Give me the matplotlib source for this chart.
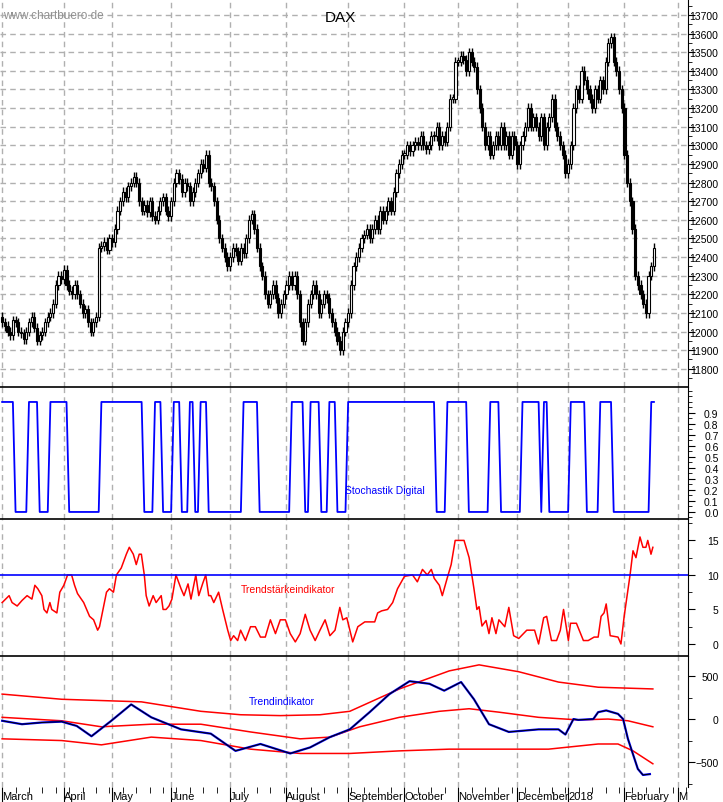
import matplotlib
matplotlib.use("Agg")
import matplotlib.pyplot as plt
import numpy as np
from matplotlib.ticker import MultipleLocator

plt.rcParams['font.family'] = ['Liberation Sans', 'DejaVu Sans']

month_labels = ["March", "April", "May", "June", "July", "August", "September",
                "October", "November", "December", "2018", "February", "M"]
month_days = [23, 18, 22, 22, 21, 23, 21, 20, 22, 19, 21, 20]

closes = [
    # March
    12050, 12030, 12000, 11980, 12060, 12050, 12000, 11990, 11960, 12000, 12050, 12080,
    12020, 11950, 11980, 12000, 12050, 12080, 12100, 12150, 12250, 12300, 12280,
    # April
    12330, 12250, 12220, 12200, 12250, 12200, 12150, 12100, 12120, 12050, 12000, 12050,
    12080, 12450, 12460, 12480, 12440, 12500,
    # May
    12480, 12550, 12650, 12700, 12750, 12720, 12780, 12800, 12830, 12800, 12700, 12650,
    12680, 12640, 12700, 12620, 12600, 12650, 12700, 12720, 12650, 12620,
    # June
    12700, 12800, 12850, 12820, 12750, 12800, 12780, 12700, 12750, 12800, 12850, 12900,
    12880, 12950, 12800, 12780, 12700, 12600, 12500, 12450, 12400, 12350,
    # July
    12400, 12450, 12430, 12380, 12450, 12420, 12500, 12600, 12630, 12550, 12450, 12350,
    12300, 12200, 12150, 12200, 12250, 12180, 12100, 12150, 12200,
    # August
    12250, 12300, 12250, 12300, 12200, 12050, 11950, 12050, 12150, 12200, 12250, 12200,
    12100, 12150, 12200, 12180, 12100, 12050, 12000, 11950, 11900, 12000, 12050,
    # September
    12100, 12250, 12350, 12400, 12450, 12500, 12520, 12550, 12500, 12550, 12600, 12550,
    12650, 12600, 12650, 12700, 12650, 12750, 12850, 12900, 12950,
    # October
    12950, 13000, 12970, 13000, 13020, 13000, 13050, 13000, 12980, 13000, 13050, 13050,
    13100, 13000, 13050, 13020, 13100, 13250, 13250, 13450,
    # November
    13450, 13480, 13460, 13400, 13500, 13450, 13420, 13300, 13200, 13100, 13000, 13050,
    12950, 13000, 13050, 13000, 13100, 13000, 13050, 12950, 13050, 13000,
    # December
    12900, 13000, 13050, 13100, 13200, 13100, 13150, 13100, 13050, 13150, 13000, 13100,
    13150, 13250, 13100, 13050, 13000, 12950, 12850,
    # January
    12900, 13000, 13200, 13300, 13250, 13400, 13350, 13300, 13250, 13200, 13300, 13250,
    13350, 13300, 13450, 13550, 13580, 13450, 13400, 13300, 13200,
    # February
    12950, 12800, 12700, 12550, 12300, 12250, 12200, 12150, 12100, 12300, 12350, 12450,
]
first_open = 12080
wick = 25

# Stochastik Digital: high intervals (trading-day index)
stoch_high = [(0, 4.4), (10, 13.3), (17.4, 24), (36.3, 52.6), (57, 59.3), (63.3, 66),
              (70, 71.5), (74, 76), (90, 95.2), (108, 112), (115, 118.5), (122, 124),
              (128.5, 161), (166, 173.7), (182, 185), (194, 200), (202, 203.7),
              (212, 217), (223, 227), (242, 246)]

# Trendstaerkeindikator: (trading day, value)
ts_points = [
    (0, 6), (2.6, 7), (3.7, 6), (5.6, 5.5), (7.4, 6.3), (9.3, 7), (11.1, 6.5), (12.2, 8.5),
    (13.3, 8), (14.8, 7), (15.6, 5), (16.7, 4.5), (17.8, 6), (18.5, 5), (20.4, 4.5),
    (21.5, 7.5), (23, 8.5), (24.4, 10), (25.9, 10), (27, 8.5), (28.1, 7.3), (30.4, 6),
    (31.5, 5), (32.6, 4), (34.1, 3.5), (35.6, 2), (36.3, 2.5), (38.9, 7.5), (40, 8),
    (41.5, 7.5), (42.6, 10), (44.4, 11), (46.3, 13), (47.4, 14), (48.9, 13), (50, 11.5),
    (51.1, 13), (51.9, 13), (53, 10), (53.7, 7), (54.8, 5.5), (56.3, 7), (57.4, 6),
    (59.3, 7), (60, 5), (61.1, 5), (62.2, 5.5), (63.3, 6.5), (64.8, 10), (66.7, 8),
    (67.8, 7), (69.3, 8.7), (70.4, 6.5), (72.2, 10), (73.3, 7), (74.8, 8.8), (75.9, 10),
    (77, 7), (77.8, 7), (78.9, 6), (80.7, 7.5), (82.2, 5), (84.1, 2), (85.2, 0.5),
    (86.3, 1.2), (87.8, 0.5), (88.9, 2), (90.7, 0.5), (92.6, 2.5), (94.4, 2.5), (96.3, 1),
    (98.1, 1), (100, 3.5), (101.9, 1.5), (103.7, 3.5), (105.6, 3.5), (107.4, 1.5),
    (109.3, 0.3), (111.1, 1.5), (113, 4.3), (114.8, 2), (116.7, 0.5), (118.5, 2),
    (120.4, 3.5), (122.2, 1.2), (124.1, 2), (125.9, 5.3), (127, 3.5), (128.5, 3.8),
    (130.7, 0.3), (132.6, 2.5), (135.2, 3.2), (138.9, 3.2), (140, 4.5), (141.5, 4.8),
    (143.7, 5), (145.6, 6), (147.4, 8), (150, 9.8), (153, 10), (154.8, 9), (156.7, 10.8),
    (158.5, 10), (160, 10.8), (161.1, 9.5), (163, 8.5), (164.1, 7), (165.9, 9.5),
    (167.4, 11.5), (168.9, 15), (172.2, 15), (174.1, 12.5), (175.9, 8), (177, 5),
    (177.8, 5.4), (178.9, 2.6), (180.4, 3.4), (181.5, 1.5), (182.6, 3.8), (184.1, 1.5),
    (185.2, 3.5), (187.4, 2.5), (188.9, 5.3), (190.7, 1.2), (192.6, 0.8), (195.6, 2),
    (198.5, 2), (200, 0), (201.9, 3.8), (203, 4), (204.8, 0.5), (206.7, 0.5), (208.1, 2),
    (209.3, 5), (211.1, 0.5), (211.9, 3), (214.1, 3), (216.7, 0.5), (218.5, 0.5),
    (220.7, 1), (222.2, 1), (223.3, 4), (224.4, 4.5), (225.2, 5.8), (226.7, 1.2),
    (229.6, 1), (230.7, 0), (231.9, 4), (234.1, 10), (235.2, 13.5), (236.3, 12.5),
    (237.8, 15.5), (238.9, 14), (240, 14), (240.7, 15), (241.9, 13), (242.6, 14)]

# Trendindikator (day index, value)
ti_day = [0, 7.4, 14.8, 22.2, 27.8, 33.3, 40.7, 48.1, 55.6, 66.7, 77.8, 87, 96.3, 107.4,
          114.8, 122.2, 129.6, 137, 144.4, 151.9, 159.3, 164.8, 171.1, 175.9, 181.5, 188.9,
          200, 207.4, 210, 213, 214.8, 220.4, 222.2, 225.2, 229.6, 231.5, 233.3, 235.2,
          237, 238.9, 241.5]
ti_val = [-20, -60, -40, -30, -80, -200, -20, 170, 20, -120, -170, -370, -290, -400, -330,
          -210, -120, 80, 290, 440, 410, 330, 430, 230, -60, -150, -120, -120, -180, 0,
          -10, 0, 80, 100, 60, 0, -230, -410, -580, -650, -640]
up_day = [0, 22.2, 51.9, 74.1, 88.9, 103.7, 118.5, 129.6, 148.1, 166.7, 177.8, 192.6,
          207.4, 222.2, 242.6]
up_val = [290, 230, 200, 90, 50, 40, 50, 90, 350, 560, 630, 550, 430, 370, 350]
mid_day = [0, 22.2, 37, 55.6, 74.1, 92.6, 111.1, 122.2, 133.3, 148.1, 163, 174.1, 185.2,
           200, 214.8, 225.9, 233.3, 242.6]
mid_val = [20, -20, -90, -60, -60, -150, -230, -210, -90, 20, 90, 120, 80, 20, -10, 0,
           -20, -90]
lo_day = [0, 22.2, 37, 55.6, 74.1, 92.6, 111.1, 129.6, 148.1, 166.7, 185.2, 203.7, 222.2,
          229.6, 235.2, 242.6]
lo_val = [-230, -250, -300, -210, -250, -350, -400, -400, -370, -350, -350, -350, -290,
          -290, -370, -520]

# ---------------------------------------------------------------
n = len(closes)
idx = np.arange(n)
opens = [first_open] + closes[:-1]
month_starts = np.concatenate([[0], np.cumsum(month_days)])

W, H = 723, 803
fig = plt.figure(figsize=(W / 100, H / 100), dpi=100)
def axrect(top, bot):
    return [0, 1 - bot / H, 688 / W, (bot - top) / H]
ax1 = fig.add_axes(axrect(0, 388))
ax2 = fig.add_axes(axrect(388, 520), sharex=ax1)
ax3 = fig.add_axes(axrect(520, 657), sharex=ax1)
ax4 = fig.add_axes(axrect(657, 788), sharex=ax1)
axes = [ax1, ax2, ax3, ax4]
XL = (-0.8, 255.7)

def style(ax):
    ax.yaxis.tick_right()
    for s in ['left', 'bottom']:
        ax.spines[s].set_visible(False)
    ax.spines['top'].set_linewidth(1.2)
    for m in month_starts:
        ax.axvline(m, color='#b0b0b0', ls=(0, (4, 3)), lw=1, zorder=0)
    ax.tick_params(axis='y', which='major', length=5, direction='out', labelsize=7.5,
                   pad=17)
    ax.tick_params(axis='y', which='minor', length=3, direction='out')
    ax.tick_params(axis='x', which='both', bottom=False, labelbottom=False)

for ax in axes:
    style(ax)
ax1.spines['top'].set_visible(False)

# candles
for y in range(11800, 13701, 100):
    ax1.axhline(y, color='#b0b0b0', ls=(0, (4, 3)), lw=1, zorder=0)
for i in range(n):
    o, c = opens[i], closes[i]
    lo, hi = min(o, c), max(o, c)
    ax1.vlines(i, lo - wick, hi + wick, color='black', lw=1, zorder=2)
    body = max(hi - lo, 8)
    ax1.bar(i, body, bottom=lo, width=0.8, color='black' if c < o else 'white',
            edgecolor='black', linewidth=0.8, zorder=3)
ax1.set_ylim(11702, 13786)
ax1.set_yticks(range(11800, 13701, 100))
ax1.yaxis.set_minor_locator(MultipleLocator(50))
ax1.text(0.005, 0.975, "www.chartbuero.de", transform=ax1.transAxes, fontsize=8.5,
         color='#909090', va='top')
ax1.text(340 / 688, 1 - 18 / 388, "DAX", transform=ax1.transAxes, fontsize=11,
         ha='center', va='center')

# stochastik digital
st = np.zeros(n)
for a, b in stoch_high:
    st[(idx >= a) & (idx <= b)] = 1
ax2.plot(idx, st, color='#0000ff', lw=1.3)
ax2.set_ylim(-0.064, 1.136)
ax2.set_yticks(np.round(np.arange(0, 0.95, 0.1), 1))
ax2.set_yticklabels([f"{v:.1f}" for v in np.arange(0, 0.95, 0.1)])
ax2.yaxis.set_minor_locator(MultipleLocator(0.05))
ax2.text(128, 0.2, "Stochastik Digital", color='#0000ff', fontsize=7.5, va='center')

# trendstaerke
ts_day = [p[0] for p in ts_points]
ts_val = [p[1] for p in ts_points]
ax3.plot(ts_day, ts_val, color='#ff0000', lw=1.1)
ax3.axhline(10, color='#0000ff', lw=1.2)
ax3.set_ylim(-1.74, 18.1)
ax3.set_yticks([0, 5, 10, 15])
ax3.yaxis.set_minor_locator(MultipleLocator(2.5))
ax3.text(89, 8.0, "Trendstärkeindikator", color='#ff0000', fontsize=7.5, va='center')

# trendindikator
ax4.plot(up_day, up_val, color='#ff0000', lw=1.1)
ax4.plot(mid_day, mid_val, color='#ff0000', lw=1.1)
ax4.plot(lo_day, lo_val, color='#ff0000', lw=1.1)
ax4.plot(ti_day, ti_val, color='#0000ff', lw=1.6)
ax4.plot(ti_day, ti_val, color='black', lw=0.7)
ax4.set_ylim(-790, 733)
ax4.set_yticks([-500, 0, 500])
ax4.yaxis.set_minor_locator(MultipleLocator(250))
ax4.text(92, 210, "Trendindikator", color='#0000ff', fontsize=7.5, va='center')

# bottom month axis
ax4.set_xticks(month_starts)
ax4.set_xticklabels(month_labels)
ax4.set_xticks(np.arange(0, 256, 5), minor=True)
ax4.tick_params(axis='x', which='major', bottom=True, labelbottom=True, length=14,
                direction='out', labelsize=8, pad=-11)
ax4.tick_params(axis='x', which='minor', bottom=True, length=4, direction='out')
ax4.set_xlim(*XL)

for ax in axes:
    for t in ax.get_yticklabels():
        t.set_ha('right')
for t in ax4.get_xticklabels():
    t.set_ha('left')

fig.savefig("out.png", dpi=100)
